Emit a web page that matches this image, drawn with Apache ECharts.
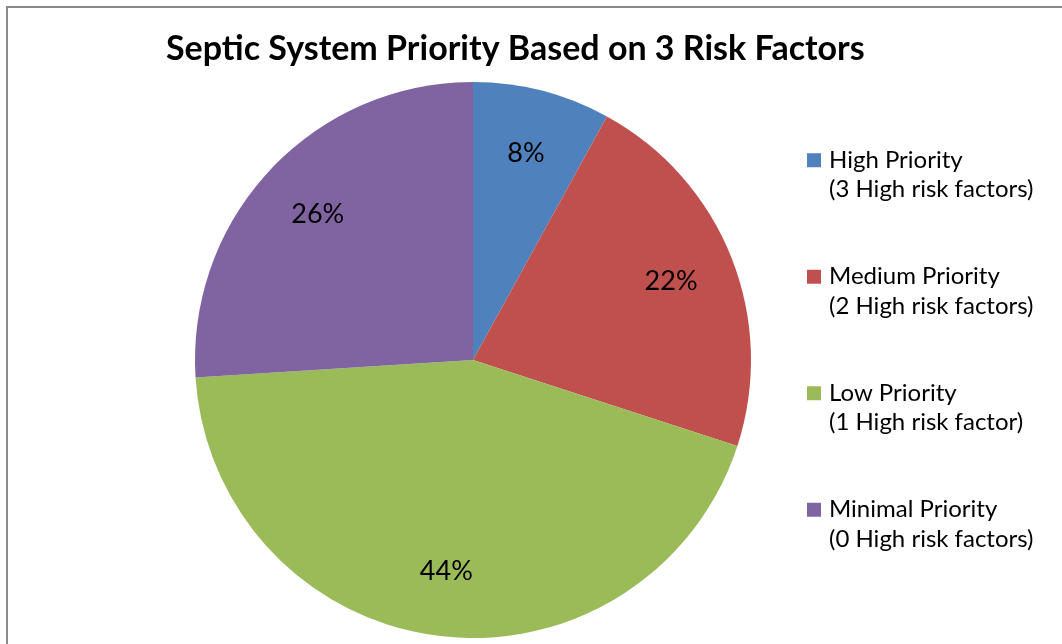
<!DOCTYPE html>
<html>
<head>
<meta charset="utf-8">
<script src="https://cdn.jsdelivr.net/npm/echarts@6/dist/echarts.min.js"></script>
<style>
  html, body { margin: 0; padding: 0; background: #fff; }
  #chart { width: 1062px; height: 644px; }
</style>
</head>
<body>
<div id="chart"></div>
<script>
// Share of septic systems by priority class
const categories = ['High Priority', 'Medium Priority', 'Low Priority', 'Minimal Priority'];
const subtitles = ['(3 High risk factors)', '(2 High risk factors)', '(1 High risk factor)', '(0 High risk factors)'];
const shares = [8, 22, 44, 26];
const colors = ['#4F81BD', '#C0504D', '#9BBB59', '#8064A2'];

const FONT = 'Lato, "Open Sans", sans-serif';
const CX = 473, CY = 360, R = 278;

const pieData = categories.map((name, i) => ({ name, value: shares[i], itemStyle: { color: colors[i] } }));
const subtitleOf = Object.fromEntries(categories.map((c, i) => [c, subtitles[i]]));

const chart = echarts.init(document.getElementById('chart'));
chart.setOption({
  backgroundColor: '#fff',
  animation: false,
  graphic: [{
    type: 'rect',
    shape: { x: 7, y: 7, width: 1200, height: 800 },
    style: { fill: 'none', stroke: '#898989', lineWidth: 2 },
    silent: true
  }],
  title: {
    text: 'Septic System Priority Based on 3 Risk Factors',
    left: 161,
    top: 27,
    textStyle: { fontFamily: FONT, fontSize: 34, fontWeight: 'bold', color: '#000' }
  },
  legend: {
    orient: 'vertical',
    left: 807,
    top: 116,
    padding: 0,
    icon: 'rect',
    itemWidth: 14,
    itemHeight: 14,
    itemGap: 28,
    data: categories,
    // leading blank line keeps the swatch level with the first text line
    formatter: name => '\n' + name + '\n' + subtitleOf[name],
    textStyle: {
      fontFamily: FONT, fontSize: 24, color: '#000', lineHeight: 29.5,
      padding: [0, 0, 0, 3]
    }
  },
  series: [
    {
      type: 'pie',
      center: [CX, CY],
      radius: [0, R],
      startAngle: 90,
      clockwise: true,
      silent: true,
      label: { show: false },
      labelLine: { show: false },
      data: pieData
    },
    {
      // transparent ring that carries the percentage labels
      type: 'pie',
      center: [CX, CY],
      radius: [142, R],
      startAngle: 90,
      clockwise: true,
      silent: true,
      itemStyle: { color: 'rgba(0,0,0,0)' },
      label: {
        show: true,
        position: 'inside',
        formatter: p => p.value + '%',
        fontFamily: FONT, fontSize: 27, color: '#000'
      },
      labelLine: { show: false },
      data: categories.map((name, i) => ({ name, value: shares[i] }))
    }
  ]
});
</script>
</body>
</html>
